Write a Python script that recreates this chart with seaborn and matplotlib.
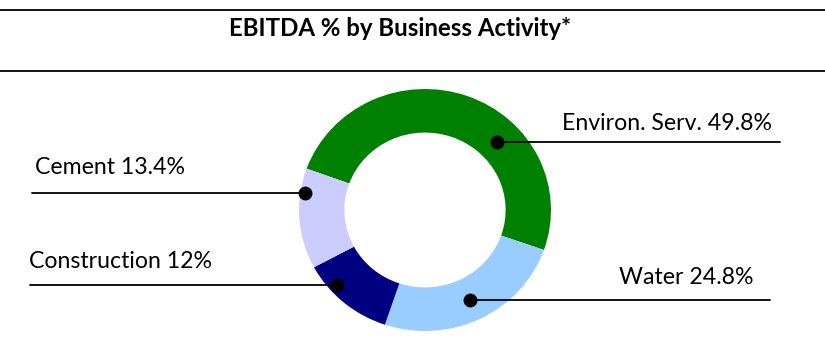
import matplotlib
matplotlib.use("Agg")
import matplotlib.pyplot as plt
import seaborn as sns
from matplotlib.lines import Line2D

sns.set_theme(style="white")
plt.rcParams['font.family'] = ['Lato', 'DejaVu Sans']

title = "EBITDA % by Business Activity*"
categories = ["Environ. Serv.", "Water", "Construction", "Cement"]
values = [49.8, 24.8, 12.0, 13.4]
value_labels = ["49.8%", "24.8%", "12%", "13.4%"]
colors = ["#008000", "#99CCFF", "#000080", "#CCCCFF"]

W, H = 825, 351
fig = plt.figure(figsize=(W / 100, H / 100), dpi=100)
fig.patch.set_facecolor("white")

# pie axes: centre (425, 210) px from top, radii 126 x 121 px
cx, cy, Rx, Ry = 425, 210, 126, 121
ax = fig.add_axes([(cx - Rx) / W, (H - cy - Ry) / H, 2 * Rx / W, 2 * Ry / H])
ax.pie(values, colors=colors, startangle=160, counterclock=False,
       radius=1.0, wedgeprops=dict(width=0.36, edgecolor="none"))
ax.set_xlim(-1, 1)
ax.set_ylim(-1, 1)
ax.set_aspect("auto")
ax.axis("off")

# overlay axes in pixel coords (top-left origin)
ov = fig.add_axes([0, 0, 1, 1], facecolor="none")
ov.set_xlim(0, W)
ov.set_ylim(H, 0)
ov.axis("off")

# frame lines
ov.add_line(Line2D([0, W], [10, 10], color="black", lw=1.3))
ov.add_line(Line2D([0, W], [71, 71], color="black", lw=1.3))
ov.text(400, 28, title, ha="center", va="center", fontsize=17.3,
        fontweight="bold", color="black")

# leader lines: (text_x, text_y, ha, line_x0, line_x1, line_y, dot_x)
layout = {
    "Environ. Serv.": (562, 124, "left", 497, 780, 142, 497),
    "Water": (619, 278, "left", 470, 770, 300, 470),
    "Construction": (29, 262, "left", 30, 337, 285, 337),
    "Cement": (35, 168, "left", 32, 305, 193, 305),
}
for cat, lab in zip(categories, value_labels):
    tx, ty, ha, x0, x1, ly, dx = layout[cat]
    ov.add_line(Line2D([x0, x1], [ly, ly], color="black", lw=1.3))
    ov.plot([dx], [ly], "o", color="black", markersize=9)
    ov.text(tx, ty, f"{cat} {lab}", ha=ha, va="center", fontsize=16.7,
            color="black")

fig.savefig("out.png", dpi=100, facecolor="white")
